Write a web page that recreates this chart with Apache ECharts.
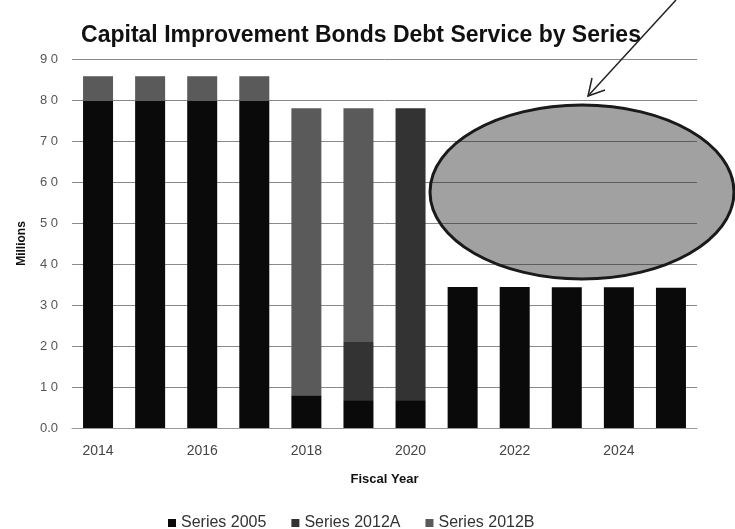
<!DOCTYPE html>
<html>
<head>
<meta charset="utf-8">
<script src="https://cdn.jsdelivr.net/npm/echarts@6/dist/echarts.min.js"></script>
<style>
html,body{margin:0;padding:0;background:#fff;}
#chart{width:735px;height:529px;}
</style>
</head>
<body>
<div id="chart"></div>
<script>
var years = ['2014','2015','2016','2017','2018','2019','2020','2021','2022','2023','2024','2025'];
var series2005  = [79.8, 79.8, 79.8, 79.8, 8.0, 6.8, 6.8, 34.4, 34.4, 34.3, 34.3, 34.2];
var series2012A = [null, null, null, null, null, 14.2, 71.2, null, null, null, null, null];
var series2012B = [6.0, 6.0, 6.0, 6.0, 70.0, 57.0, null, null, null, null, null, null];
var yTicks = [0, 10, 20, 30, 40, 50, 60, 70, 80, 90];

var chart = echarts.init(document.getElementById('chart'));
var font = 'Liberation Sans, Arial, sans-serif';
chart.setOption({
  animation: false,
  backgroundColor: '#fff',
  title: {
    text: 'Capital Improvement Bonds Debt Service by Series',
    left: 356, top: 19, textAlign: 'center',
    textStyle: {fontFamily: font, fontSize: 23, fontWeight: 'bold', color: '#111'}
  },
  legend: {
    top: 510, left: 163,
    icon: 'rect', itemWidth: 8, itemHeight: 8, itemGap: 25,
    textStyle: {fontFamily: font, fontSize: 16, color: '#333'},
    data: ['Series 2005', 'Series 2012A', 'Series 2012B']
  },
  grid: {left: 72, right: 38, top: 59, bottom: 101},
  xAxis: {
    type: 'category', data: years,
    name: 'Fiscal Year', nameLocation: 'middle', nameGap: 45,
    nameTextStyle: {fontFamily: font, fontSize: 13, fontWeight: 'bold', color: '#111'},
    axisLine: {lineStyle: {color: '#999'}},
    axisTick: {show: false},
    axisLabel: {interval: 1, fontFamily: font, fontSize: 14, color: '#444', margin: 16}
  },
  yAxis: {
    type: 'value', min: 0, max: 90, interval: 10,
    name: 'Millions', nameLocation: 'middle', nameGap: 44, nameRotate: 90,
    nameTextStyle: {fontFamily: font, fontSize: 12, fontWeight: 'bold', color: '#111'},
    axisLine: {show: false},
    axisTick: {show: false},
    splitLine: {lineStyle: {color: '#8a8a8a', width: 1}},
    axisLabel: {
      fontFamily: font, fontSize: 13, color: '#555', margin: 14,
      formatter: function (v) {
        if (yTicks.indexOf(v) < 0) return '';
        return v === 0 ? '0.0' : String(v).split('').join(' ');
      }
    }
  },
  series: [
    {name: 'Series 2005', type: 'bar', stack: 'total', barWidth: 30, data: series2005, itemStyle: {color: '#0a0a0a'}},
    {name: 'Series 2012A', type: 'bar', stack: 'total', barWidth: 30, data: series2012A, itemStyle: {color: '#333333'}},
    {name: 'Series 2012B', type: 'bar', stack: 'total', barWidth: 30, data: series2012B, itemStyle: {color: '#5a5a5a'}}
  ],
  graphic: [
    {type: 'ellipse', z: 100, shape: {cx: 582, cy: 192, rx: 152, ry: 87},
     style: {fill: 'rgba(30,30,30,0.42)', stroke: '#1a1a1a', lineWidth: 3}},
    {type: 'line', z: 100, shape: {x1: 676, y1: 0, x2: 588, y2: 96},
     style: {stroke: '#222', lineWidth: 1.5}},
    {type: 'polyline', z: 100, shape: {points: [[592, 78], [588, 96], [605, 90]]},
     style: {stroke: '#222', lineWidth: 1.5, fill: null}}
  ]
});
</script>
</body>
</html>
